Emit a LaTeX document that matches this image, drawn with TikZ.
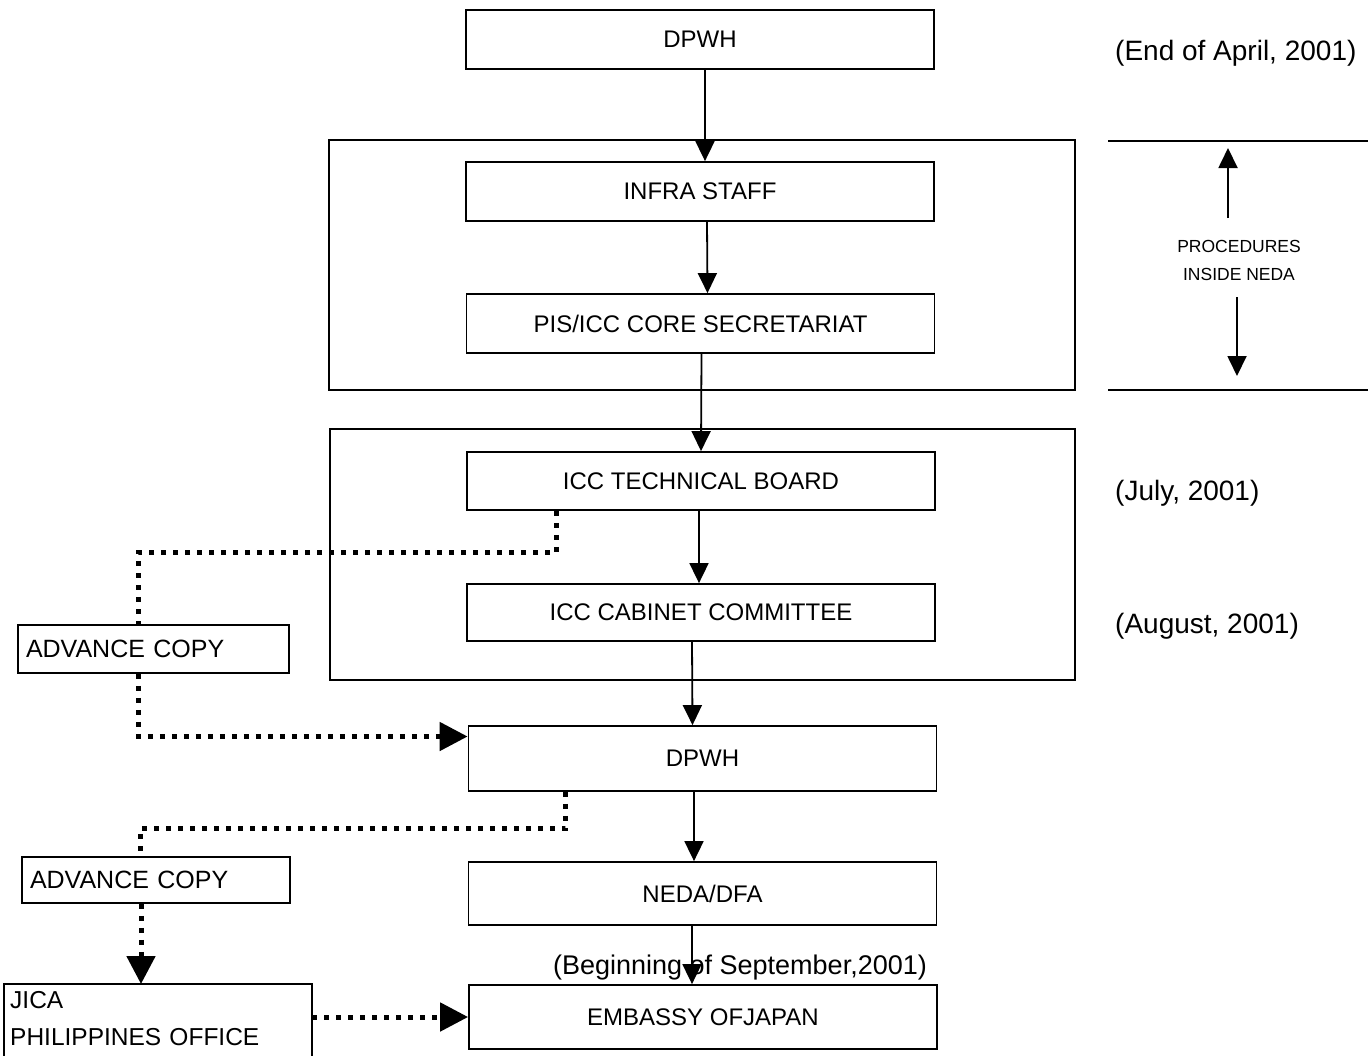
\documentclass[tikz,border=0pt]{standalone}
\usepackage{fontspec}
\setmainfont{Liberation Sans}
\usetikzlibrary{arrows.meta}

\newcommand{\bigtxt}{\fontsize{24}{28}\selectfont}
\newcommand{\copytxt}{\fontsize{25}{28}\selectfont}
\newcommand{\datetxt}{\fontsize{28}{30}\selectfont}
\newcommand{\smalltxt}{\fontsize{17.5}{28}\selectfont}

\tikzset{
  box/.style={draw, line width=1.8pt, minimum width=468pt, inner sep=0pt, font=\bigtxt},
  copybox/.style={draw, line width=1.8pt, inner xsep=7pt, inner ysep=0pt, align=left, font=\copytxt},
  frame/.style={line width=1.8pt},
  flow/.style={line width=1.8pt, -{Triangle[width=19pt,length=20pt]}},
  copyline/.style={line width=5pt, line cap=butt, dash pattern=on 5pt off 7pt},
  copyarrow/.style={copyline, -{Triangle[width=28pt,length=28pt]}},
  datelabel/.style={anchor=west, inner sep=0pt, font=\datetxt},
}

\begin{document}
\begin{tikzpicture}[x=1pt, y=-1pt]
			%%%%% START %%%%%
			\useasboundingbox (0,0) rectangle (1370,1055);
			
			% the two NEDA frames
			\draw[frame] (329,140) rectangle (1075,390);
			\draw[frame] (330,429) rectangle (1075,680);
			
			\node[box, minimum height=59pt] (dpwhA) at (700,39.5) {DPWH};
			\node[box, minimum height=59pt] (infra) at (700,191.5) {INFRA STAFF};
			\node[box, minimum height=59pt] (pis) at (700.5,323.5) {PIS/ICC CORE SECRETARIAT};
			\node[box, minimum height=58pt] (tech) at (701,481) {ICC TECHNICAL BOARD};
			\node[box, minimum height=57pt] (cab) at (701,612.5) {ICC CABINET COMMITTEE};
			\node[box, minimum height=65pt] (dpwhB) at (702.5,758.5) {DPWH};
			\node[box, minimum height=63pt] (neda) at (702.5,893.5) {NEDA/DFA};
			\node[box, minimum height=64pt] (emb) at (703,1017) {EMBASSY OFJAPAN};
			
			\node[copybox, minimum width=271pt, minimum height=48pt, text width=255pt] (advA) at (153.5,649) {ADVANCE COPY};
			\node[copybox, minimum width=268pt, minimum height=46pt, text width=252pt] (advB) at (156,880) {ADVANCE COPY};
			\node[anchor=north west, align=left, inner xsep=6pt, inner ysep=7pt, minimum width=308pt,
			      text width=296pt, font=\fontsize{24.5}{37}\selectfont] (jica) at (4,984) {JICA\\PHILIPPINES OFFICE};
			\draw[frame] (jica.north west) rectangle ++(308,90);
			
			% main flow
			\draw[flow] ([xshift=5pt]dpwhA.south) -- ([xshift=5pt]infra.north);
			\draw[flow] ([xshift=7pt]infra.south) -- ([xshift=7pt]pis.north);
			\draw[flow] ([xshift=1pt]pis.south) -- (tech.north);
			\draw[flow] ([xshift=-2pt]tech.south) -- ([xshift=-2pt]cab.north);
			\draw[flow] ([xshift=-9pt]cab.south) -- ([xshift=-10pt]dpwhB.north);
			\draw[flow] ([xshift=-8.5pt]dpwhB.south) -- ([xshift=-8.5pt]neda.north);
			\node[inner sep=0pt, font=\fontsize{27}{30}\selectfont] (sept) at (740,968) {(Beginning of September,2001)};
			\draw[flow] ([xshift=-10.5pt]neda.south) -- ([xshift=-11pt]emb.north);
			
			% advance copies
			\coordinate (advBout) at ([xshift=-15pt]advB.south);
			\draw[copyline] ([xshift=-145pt]tech.south) -- ++(0,42) -| ([xshift=-15pt]advA.north);
			\draw[copyarrow] ([xshift=-15pt]advA.south) |- ([yshift=22pt]dpwhB.west);
			\draw[copyline] ([xshift=-137pt]dpwhB.south) -- ++(0,37) -| ([xshift=-16pt]advB.north);
			\draw[copyarrow] (advBout) -- (advBout |- jica.north);
			\draw[copyarrow] (jica.east |- emb.west) -- (emb.west);
			
			% dates
			\node[datelabel] (april) at (1115,53) {(End of April, 2001)};
			\node[datelabel] (july) at (1115,493) {(July, 2001)};
			\node[datelabel] (august) at (1115,626) {(August, 2001)};
			
			% procedures inside NEDA
			\coordinate (nedaTop) at (1108,141);
			\coordinate (nedaBot) at (1108,390);
			\draw[frame] (nedaTop) -- ++(260,0);
			\draw[frame] (nedaBot) -- ++(260,0);
			\node[align=center, inner sep=0pt, font=\smalltxt] (proc) at (1239,260) {PROCEDURES\\INSIDE NEDA};
			\coordinate (upTail) at (1228,218);
			\coordinate (upTip) at (1228,148);
			\coordinate (downTail) at (1237,297);
			\coordinate (downTip) at (1237,376);
			\draw[flow] (upTail) -- (upTip);
			\draw[flow] (downTail) -- (downTip);
			
			%%%%% END %%%%%
		\end{tikzpicture}
\end{document}
